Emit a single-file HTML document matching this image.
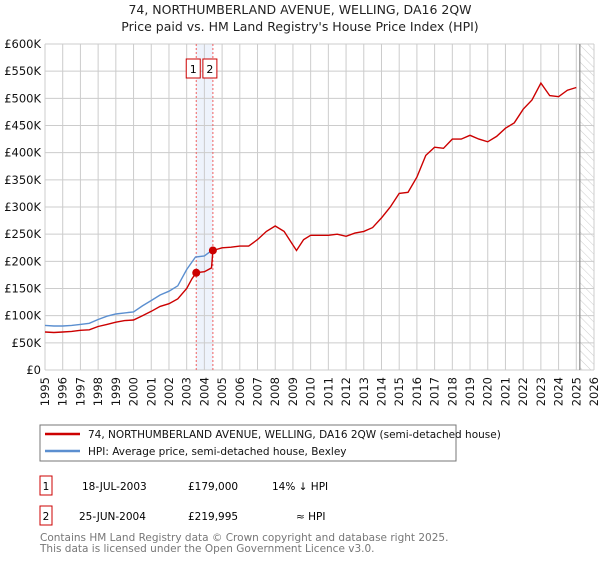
<!DOCTYPE html>
<html><head><meta charset="utf-8"><style>
body{margin:0;background:#fff;font-family:"Liberation Sans","DejaVu Sans",sans-serif;}
svg text{font-family:"DejaVu Sans","Liberation Sans",sans-serif;}
</style></head><body>
<svg width="600" height="560" viewBox="0 0 600 560" xmlns="http://www.w3.org/2000/svg">
<defs><pattern id="hatch" width="6" height="6" patternUnits="userSpaceOnUse" patternTransform="rotate(-45)"><line x1="0" y1="0" x2="0" y2="6" stroke="#ccc" stroke-width="1"/></pattern></defs>
<text x="300" y="14" text-anchor="middle" font-size="12.5" fill="#222">74, NORTHUMBERLAND AVENUE, WELLING, DA16 2QW</text>
<text x="300" y="31" text-anchor="middle" font-size="12.5" fill="#222">Price paid vs. HM Land Registry's House Price Index (HPI)</text>
<g id="grid"></g>
<g id="marks"></g>
<g id="axes"></g>
<rect x="40" y="425" width="416" height="36" fill="#fff" stroke="#777"/>
<line x1="45" y1="434" x2="80" y2="434" stroke="#cc0000" stroke-width="2.5"/>
<text x="88" y="438" font-size="10.5" fill="#111">74, NORTHUMBERLAND AVENUE, WELLING, DA16 2QW (semi-detached house)</text>
<line x1="45" y1="451" x2="80" y2="451" stroke="#5b8fd0" stroke-width="2.5"/>
<text x="88" y="455" font-size="10.5" fill="#111">HPI: Average price, semi-detached house, Bexley</text>
<g>
<rect x="40" y="476" width="12" height="19" fill="#fff" stroke="#cc0000"/>
<text x="46" y="490" text-anchor="middle" font-size="10.5">1</text>
<text x="82" y="490" font-size="10.5">18-JUL-2003</text>
<text x="188" y="490" font-size="10.5">£179,000</text>
<text x="272" y="490" font-size="10.5">14% ↓ HPI</text></g>
<g>
<rect x="40" y="506" width="12" height="19" fill="#fff" stroke="#cc0000"/>
<text x="46" y="520" text-anchor="middle" font-size="10.5">2</text>
<text x="79" y="520" font-size="10.5">25-JUN-2004</text>
<text x="188" y="520" font-size="10.5">£219,995</text>
<text x="296" y="520" font-size="10.5">≈ HPI</text></g>
<text x="40" y="541" font-size="10.5" fill="#777">Contains HM Land Registry data © Crown copyright and database right 2025.</text>
<text x="40" y="552" font-size="10.5" fill="#777">This data is licensed under the Open Government Licence v3.0.</text>
</svg>
<script>
const yearTicks=[1995,1996,1997,1998,1999,2000,2001,2002,2003,2004,2005,2006,2007,2008,2009,2010,2011,2012,2013,2014,2015,2016,2017,2018,2019,2020,2021,2022,2023,2024,2025,2026];
const yTicks=[0,50,100,150,200,250,300,350,400,450,500,550,600];
const yTickLabels=["£0","£50K","£100K","£150K","£200K","£250K","£300K","£350K","£400K","£450K","£500K","£550K","£600K"];
const priceYears=[1995,1995.5,1996,1996.5,1997,1997.5,1998,1998.5,1999,1999.5,2000,2000.5,2001,2001.5,2002,2002.5,2003,2003.3,2003.54,2004,2004.4,2004.48,2005,2005.5,2006,2006.5,2007,2007.5,2008,2008.5,2009,2009.2,2009.6,2010,2010.5,2011,2011.5,2012,2012.5,2013,2013.5,2014,2014.5,2015,2015.5,2016,2016.5,2017,2017.5,2018,2018.5,2019,2019.5,2020,2020.5,2021,2021.5,2022,2022.5,2023,2023.5,2024,2024.5,2025];
const priceValues=[70,69,70,71,73,74,80,84,88,91,92,100,108,117,122,131,150,168,179,181,188,220,225,226,228,228,240,255,265,255,230,220,240,248,248,248,250,246,252,255,262,280,300,325,327,355,395,410,408,425,425,432,425,420,430,445,455,480,497,528,505,503,515,520];
const hpiYears=[1995,1995.5,1996,1996.5,1997,1997.5,1998,1998.5,1999,1999.5,2000,2000.5,2001,2001.5,2002,2002.5,2003,2003.5,2004,2004.5];
const hpiValues=[82,81,81,82,84,86,93,99,103,105,107,118,128,138,145,155,185,208,210,222];
const sales=[[2003.54,179],[2004.48,220]];
const X=y=>45+(y-1995)*(549/31), Y=v=>370-v*(326/600);
const ns="http://www.w3.org/2000/svg";
function mk(tag,attrs,parent){const e=document.createElementNS(ns,tag);for(const k in attrs)e.setAttribute(k,attrs[k]);document.getElementById(parent).appendChild(e);return e;}
let band=mk('rect',{x:X(2003.54),y:Y(600),width:X(2004.48)-X(2003.54),height:Y(0)-Y(600),fill:'#eef3fc'},'grid');


let hatch=mk('rect',{x:X(2025.2),y:Y(600),width:X(2026)-X(2025.2),height:Y(0)-Y(600),fill:'url(#hatch)'},'grid');


yearTicks.forEach(t=>{mk('line',{x1:X(t),x2:X(t),y1:Y(0),y2:Y(600),stroke:'#ccc'},'grid');
 const tx=mk('text',{x:0,y:0,'font-size':11.5,fill:'#111','text-anchor':'end',transform:`translate(${X(t)+4},${Y(0)+7}) rotate(-90)`},'axes');tx.textContent=t;
 
 });
yTicks.forEach((t,i)=>{mk('line',{x1:X(1995),x2:X(2026),y1:Y(t),y2:Y(t),stroke:'#ccc'},'grid');
 const tx=mk('text',{x:41,y:Y(t)+4,'font-size':11.5,fill:'#111','text-anchor':'end'},'axes');tx.textContent=yTickLabels[i];
 
 });
mk('line',{x1:X(2025.2),x2:X(2025.2),y1:Y(0),y2:Y(600),stroke:'#888','stroke-width':1.2},'grid');
sales.forEach((s,i)=>{const l=mk('line',{x1:X(s[0]),x2:X(s[0]),y1:Y(0),y2:Y(600),stroke:'#f06060','stroke-dasharray':'2,2'},'grid');
 
 
 const bx=X(s[0])+(i==0?-3:-3);
 mk('rect',{x:bx-7,y:59,width:14,height:19,fill:'#fff',stroke:'#cc0000'},'axes');
 const t=mk('text',{x:bx,y:73,'font-size':11,'text-anchor':'middle'},'axes');t.textContent=i+1;
 
 });
const line=(xs,vs)=>xs.map((x,i)=>(i?'L':'M')+X(x).toFixed(1)+','+Y(vs[i]).toFixed(1)).join('');
const hp=mk('path',{d:line(hpiYears,hpiValues),fill:'none',stroke:'#5b8fd0','stroke-width':1.4},'marks');


const pp=mk('path',{d:line(priceYears,priceValues),fill:'none',stroke:'#cc0000','stroke-width':1.4},'marks');


sales.forEach(s=>{const c=mk('circle',{cx:X(s[0]),cy:Y(s[1]),r:4,fill:'#cc0000'},'marks');
 
 });
</script>
</body></html>
